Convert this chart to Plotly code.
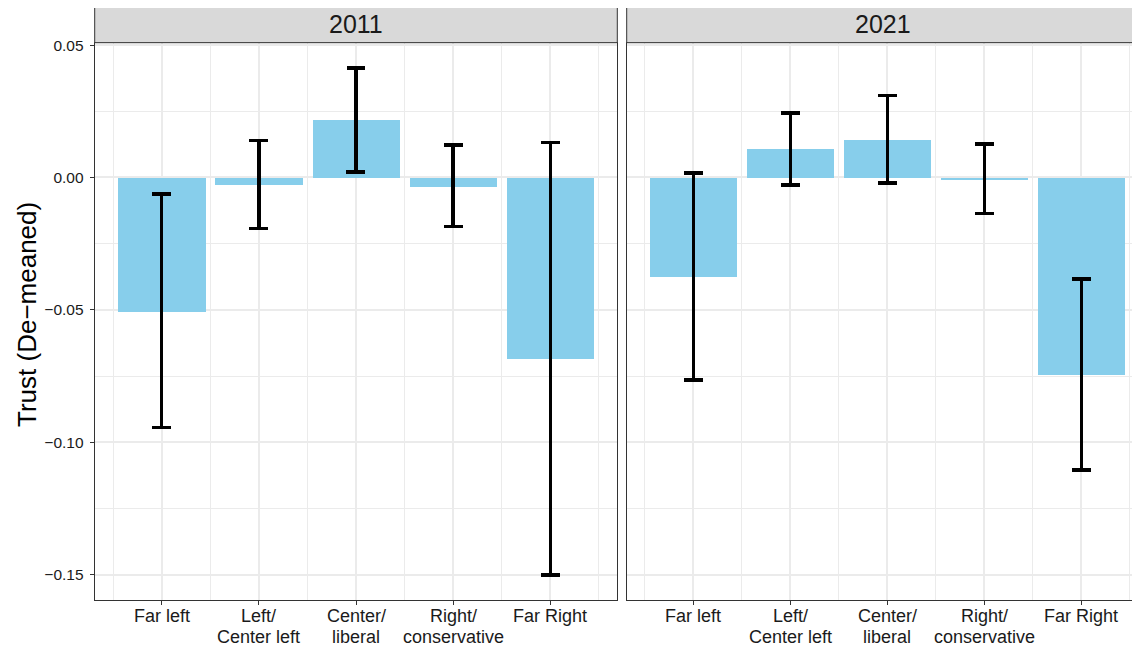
import plotly.graph_objects as go

categories = ["Far left", "Left/<br>Center left", "Center/<br>liberal", "Right/<br>conservative", "Far Right"]
years = ["2011", "2021"]

trust_2011 = [-0.0508, -0.0026, 0.0218, -0.0034, -0.0684]
lower_2011 = [-0.0945, -0.0193, 0.0021, -0.0186, -0.1502]
upper_2011 = [-0.0063, 0.0140, 0.0413, 0.0122, 0.0132]

trust_2021 = [-0.0374, 0.0108, 0.0142, -0.0008, -0.0746]
lower_2021 = [-0.0765, -0.0028, -0.0020, -0.0137, -0.1105]
upper_2021 = [0.0017, 0.0243, 0.0310, 0.0127, -0.0383]

y_ticks = [-0.15, -0.10, -0.05, 0.00, 0.05]

W, H = 1140, 649
OFF = 8  # page body margin offset
BAR = "#87CEEB"
GRID = "#EBEBEB"
BORDER = "#333333"
TEXT = "#1A1A1A"
FONT = "Liberation Sans, Arial"

def px_x(p):
    return (p - OFF) / W

def px_y(p):
    return (H - (p - OFF)) / H

panels = [
    dict(year=years[0], vals=trust_2011, lo=lower_2011, hi=upper_2011,
         x0=94.7, x1=617.3, rng=[-0.69, 4.69]),
    dict(year=years[1], vals=trust_2021, lo=lower_2021, hi=upper_2021,
         x0=626.7, x1=1139.5, rng=[-0.687, 4.60]),
]

fig = go.Figure()
pos = list(range(len(categories)))
panel_top, panel_bot = 42.7, 600.0
y_range = [-0.1596, 0.0509]
label_line_centers = [615.5, 636.5]

shapes = []
annotations = []
for i, p in enumerate(panels):
    xa = "x" if i == 0 else "x2"
    ya = "y" if i == 0 else "y2"
    fig.add_trace(go.Bar(
        x=pos, y=p["vals"], xaxis=xa, yaxis=ya,
        width=0.9, marker=dict(color=BAR, line=dict(width=0)),
        error_y=dict(type="data", symmetric=False,
                     array=[h - v for h, v in zip(p["hi"], p["vals"])],
                     arrayminus=[v - l for v, l in zip(p["vals"], p["lo"])],
                     color="black", thickness=3.5, width=9.5),
        showlegend=False, hoverinfo="skip",
    ))
    axis_x = dict(
        domain=[px_x(p["x0"]), px_x(p["x1"])], range=p["rng"],
        tickvals=pos, showticklabels=False,
        showgrid=True, gridcolor=GRID, gridwidth=1.6,
        minor=dict(tick0=0.5, dtick=1, showgrid=True, gridcolor=GRID, gridwidth=0.8, ticklen=0),
        showline=True, linecolor=BORDER, linewidth=1, mirror=True,
        ticks="outside", ticklen=4, tickcolor=BORDER, tickwidth=1,
        zeroline=False, anchor=ya, fixedrange=True, automargin=False,
    )
    axis_y = dict(
        domain=[px_y(panel_bot), px_y(panel_top)], range=y_range,
        tickvals=y_ticks, tickformat=".2f",
        showgrid=True, gridcolor=GRID, gridwidth=1.6,
        minor=dict(tick0=0.025, dtick=0.05, showgrid=True, gridcolor=GRID, gridwidth=0.8, ticklen=0),
        showline=True, linecolor=BORDER, linewidth=1, mirror=True,
        zeroline=False, anchor=xa, fixedrange=True, automargin=False,
    )
    if i == 0:
        axis_y.update(ticks="outside", ticklen=4, tickcolor=BORDER, tickwidth=1,
                      showticklabels=True, ticklabelstandoff=3,
                      tickfont=dict(family=FONT, size=15.5, color=TEXT))
        fig.update_layout(xaxis=axis_x, yaxis=axis_y)
    else:
        axis_y.update(ticks="", showticklabels=False)
        fig.update_layout(xaxis2=axis_x, yaxis2=axis_y)

    # category labels, one annotation per text line (tighter line spacing like ggplot)
    for xv, cat in zip(pos, categories):
        for li, line in enumerate(cat.split("<br>")):
            annotations.append(dict(text=line, xref=xa, yref="paper", x=xv,
                                    y=px_y(label_line_centers[li]),
                                    xanchor="center", yanchor="middle", showarrow=False,
                                    font=dict(family=FONT, size=18, color=TEXT)))

    shapes.append(dict(type="rect", xref="paper", yref="paper",
                       x0=px_x(p["x0"]), x1=px_x(p["x1"]),
                       y0=px_y(panel_top), y1=px_y(5.3),
                       fillcolor="#D9D9D9", line=dict(color=BORDER, width=1), layer="above"))
    annotations.append(dict(text=p["year"], xref="paper", yref="paper",
                            x=(px_x(p["x0"]) + px_x(p["x1"])) / 2,
                            y=(px_y(panel_top) + px_y(5.3)) / 2,
                            xanchor="center", yanchor="middle", showarrow=False,
                            font=dict(family=FONT, size=25, color=TEXT)))

annotations.append(dict(text="Trust (De\u2212meaned)", xref="paper", yref="paper",
                        x=px_x(27), y=px_y(315),
                        xanchor="center", yanchor="middle", textangle=-90, showarrow=False,
                        font=dict(family=FONT, size=26, color="black")))

fig.update_layout(
    width=W, height=H, autosize=False,
    margin=dict(l=0, r=0, t=0, b=0),
    paper_bgcolor="white", plot_bgcolor="white",
    bargap=0, shapes=shapes, annotations=annotations,
)

fig.write_html("out.html")
